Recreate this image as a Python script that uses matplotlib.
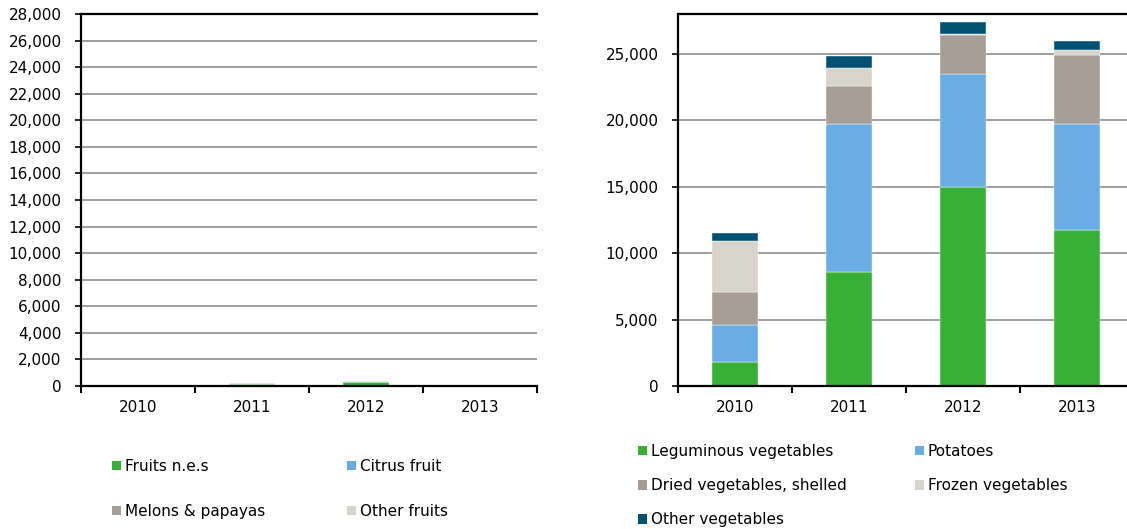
import matplotlib
matplotlib.use("Agg")
import matplotlib.pyplot as plt
from matplotlib.patches import Patch
from matplotlib.ticker import FuncFormatter, FixedLocator
import numpy as np

plt.rcParams['font.family'] = ['DejaVu Sans']

years = ["2010", "2011", "2012", "2013"]

# Left chart: fruits
fruit_labels = ["Fruits n.e.s", "Citrus fruit", "Melons & papayas", "Other fruits"]
fruits_nes = [20, 160, 270, 15]
citrus = [0, 0, 10, 0]
melons = [0, 10, 10, 0]
other_fruits = [5, 40, 90, 5]

# Right chart: vegetables
veg_labels = ["Leguminous vegetables", "Potatoes", "Dried vegetables, shelled",
              "Frozen vegetables", "Other vegetables"]
leguminous = [1820, 8580, 14960, 11710]
potatoes = [2740, 11140, 8510, 8010]
dried = [2520, 2830, 2930, 5180]
frozen = [3800, 1420, 130, 380]
other_veg = [620, 880, 870, 700]

colors = ["#36B037", "#6AADE4", "#A59D96", "#D7D4CC", "#005172"]

W, H = 1127, 529
fig = plt.figure(figsize=(W / 100, H / 100), dpi=100)


def px_axes(x0, y0, x1, y1):
    return fig.add_axes([x0 / W, 1 - y1 / H, (x1 - x0) / W, (y1 - y0) / H])


def style(ax, yticks):
    n = len(years)
    ax.set_xlim(-0.5, n - 0.5)
    ax.set_ylim(0, 28000)
    ax.set_yticks(yticks)
    ax.yaxis.set_major_formatter(FuncFormatter(lambda v, p: f"{int(v):,}"))
    ax.grid(axis='y', color='#8E8E8E', linewidth=1.2, zorder=0)
    ax.set_axisbelow(True)
    ax.set_xticks(range(n))
    ax.set_xticklabels(years)
    ax.xaxis.set_minor_locator(FixedLocator(np.arange(-0.5, n, 1.0)))
    ax.tick_params(axis='x', which='major', length=0, pad=10, labelsize=11)
    ax.tick_params(axis='x', which='minor', length=5, width=1.5, direction='out')
    ax.tick_params(axis='y', length=4, width=1.2, direction='out', pad=10, labelsize=11)
    for s in ['left', 'bottom', 'top']:
        ax.spines[s].set_color('black')
        ax.spines[s].set_linewidth(1.6)
    ax.spines['right'].set_visible(False)


def stack(ax, series):
    x = np.arange(len(years))
    bottom = np.zeros(len(years))
    for vals, c in zip(series, colors):
        ax.bar(x, vals, 0.4, bottom=bottom, color=c, edgecolor='white',
               linewidth=0.3, zorder=2)
        bottom += np.array(vals, dtype=float)


ax1 = px_axes(81, 14, 537, 386)
stack(ax1, [fruits_nes, citrus, melons, other_fruits])
style(ax1, range(0, 28001, 2000))

ax2 = px_axes(678, 14, 1134, 386)
stack(ax2, [leguminous, potatoes, dried, frozen, other_veg])
style(ax2, range(0, 25001, 5000))


def col_legend(labels, cols, x, y, spacing):
    handles = [Patch(facecolor=c, edgecolor='none') for c in cols]
    leg = fig.legend(handles, labels, loc='upper left',
                     bbox_to_anchor=(x / W, 1 - y / H), bbox_transform=fig.transFigure,
                     frameon=False, fontsize=11, handlelength=0.6, handleheight=0.6,
                     handletextpad=0.25, labelspacing=spacing, borderpad=0,
                     borderaxespad=0)
    return leg


# Left legend (two columns)
col_legend([fruit_labels[0], fruit_labels[2]], [colors[0], colors[2]], 112, 459, 1.95)
col_legend([fruit_labels[1], fruit_labels[3]], [colors[1], colors[3]], 347, 459, 1.95)
# Right legend
col_legend([veg_labels[0], veg_labels[2], veg_labels[4]], [colors[0], colors[2], colors[4]],
           638, 444, 1.25)
col_legend([veg_labels[1], veg_labels[3]], [colors[1], colors[3]], 915, 444, 1.25)

fig.savefig("out.png", dpi=100)
